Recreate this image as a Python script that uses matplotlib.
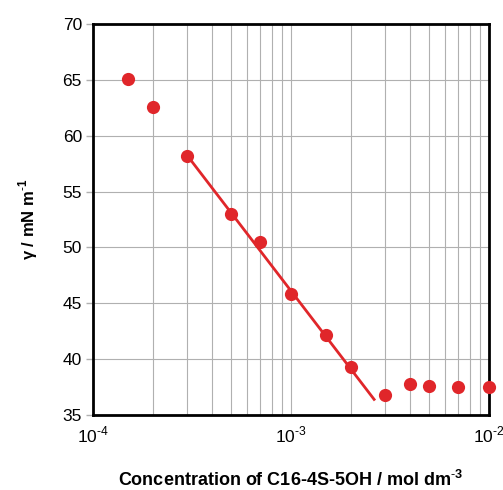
import matplotlib
matplotlib.use("Agg")
import matplotlib.pyplot as plt
from matplotlib.ticker import LogLocator, FixedLocator, NullFormatter, FuncFormatter
import math

plt.rcParams['font.family'] = ['Liberation Sans', 'DejaVu Sans']
plt.rcParams['mathtext.fontset'] = 'custom'
plt.rcParams['mathtext.rm'] = 'Liberation Sans'
plt.rcParams['mathtext.bf'] = 'Liberation Sans:bold'

conc = [1.5e-4, 2e-4, 3e-4, 5e-4, 7e-4, 1e-3, 1.5e-3, 2e-3, 3e-3, 4e-3, 5e-3, 7e-3, 1e-2]
gamma = [65.1, 62.6, 58.2, 53.0, 50.5, 45.8, 42.2, 39.3, 36.8, 37.8, 37.6, 37.5, 37.5]
fit_x = [3e-4, 2.63e-3]
fit_y = [58.2, 36.4]

red = '#e0262a'
grid_c = '#b0b0b0'
fig = plt.figure(figsize=(5.03, 4.9), dpi=100)
ax = fig.add_axes([0.185, 0.153, 0.787, 0.798])
ax.set_xscale('log')
ax.set_xlim(1e-4, 1e-2)
ax.set_ylim(35, 70)

ax.plot(fit_x, fit_y, color=red, lw=2, zorder=3)
ax.plot(conc, gamma, 'o', color=red, ms=9.5, mec='none', zorder=4, clip_on=False)

def fmt(v, pos):
    e = int(round(math.log10(v)))
    return '10$^{\\text{-}%d}$' % abs(e)

ax.xaxis.set_major_locator(LogLocator(base=10, numticks=5))
ax.xaxis.set_major_formatter(FuncFormatter(fmt))
ax.xaxis.set_minor_locator(LogLocator(base=10, subs=range(2, 10), numticks=20))
ax.xaxis.set_minor_formatter(NullFormatter())
ax.yaxis.set_major_locator(FixedLocator([35, 40, 45, 50, 55, 60, 65, 70]))
ax.grid(True, which='both', axis='x', color=grid_c, lw=0.8)
ax.grid(True, which='major', axis='y', color=grid_c, lw=0.8)
ax.set_axisbelow(True)

for s in ax.spines.values():
    s.set_linewidth(2)
ax.tick_params(axis='y', direction='out', length=5, width=1, color=grid_c, labelsize=12.5, pad=3)
ax.tick_params(axis='x', which='major', direction='out', length=0, labelsize=12.5, pad=7)
ax.tick_params(axis='x', which='minor', length=0)

ax.set_xlabel('Concentration of C16-4S-5OH / mol dm$^{\\mathbf{\\text{-}3}}$', fontsize=13, fontweight='bold', labelpad=18)
ax.set_ylabel('γ / mN m$^{\\mathbf{\\text{-}1}}$', fontsize=12, fontweight='bold', labelpad=16)

fig.savefig('out.png', dpi=100)
